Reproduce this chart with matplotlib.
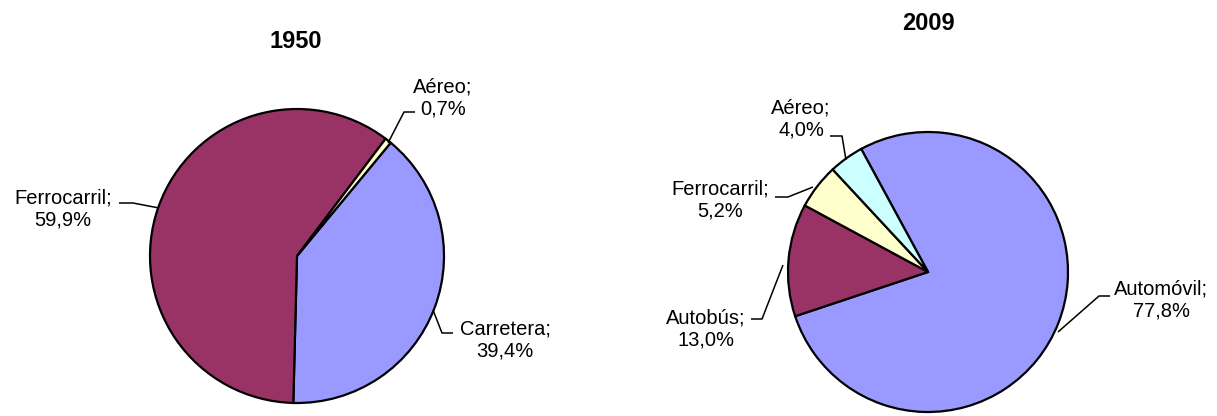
import matplotlib.pyplot as plt

plt.rcParams['font.family'] = ['Liberation Sans', 'DejaVu Sans']

# datos
titulo_1950 = "1950"
modos_1950 = ["Carretera", "Ferrocarril", "Aéreo"]
valores_1950 = [39.4, 59.9, 0.7]

titulo_2009 = "2009"
modos_2009 = ["Automóvil", "Autobús", "Ferrocarril", "Aéreo"]
valores_2009 = [77.8, 13.0, 5.2, 4.0]

colores_1950 = {"Carretera": "#9999FF", "Ferrocarril": "#993366",
                "Aéreo": "#FFFFCC"}
colores_2009 = {"Automóvil": "#9999FF", "Autobús": "#993366",
                "Ferrocarril": "#FFFFCC", "Aéreo": "#CCFFFF"}

W, H = 1217, 416
fig = plt.figure(figsize=(W / 100, H / 100), dpi=100)
ax = fig.add_axes([0, 0, 1, 1])


def py(y):
    # pixel desde arriba -> coordenada
    return H - y


def fmt(v):
    return f"{v:.1f}".replace(".", ",") + "%"


def dibujar(nombres, valores, cols, centro, radio, inicio, titulo, tpos, etiquetas):
    ax.pie(valores, colors=[cols[n] for n in nombres], startangle=inicio,
           counterclock=False, center=(centro[0], py(centro[1])), radius=radio,
           wedgeprops=dict(edgecolor='black', linewidth=1.6), frame=True)
    ax.text(tpos[0], py(tpos[1]), titulo, ha='center', va='center',
            fontsize=17, fontweight='bold')
    for n, v in zip(nombres, valores):
        (tx, ty), linea = etiquetas[n]
        ax.text(tx, py(ty), f"{n};\n{fmt(v)}", ha='center', va='center',
                fontsize=14.5, linespacing=1.15)
        xs = [p[0] for p in linea]
        ys = [py(p[1]) for p in linea]
        ax.plot(xs, ys, color='black', lw=1.1, solid_capstyle='butt')


# posiciones de etiquetas (px) y lineas guia
etq_1950 = {
    "Aéreo": ((443, 98), [(415, 112), (404, 112), (388, 143)]),
    "Ferrocarril": ((63, 209), [(119, 203), (133, 203), (159, 208)]),
    "Carretera": ((505, 340), [(453, 333), (442, 333), (433, 310)]),
}
etq_2009 = {
    "Aéreo": ((801, 119), [(830, 136), (842, 136), (846, 160)]),
    "Ferrocarril": ((720, 200), [(775, 197), (788, 197), (813, 187)]),
    "Autobús": ((706, 329), [(751, 319), (762, 319), (783, 265)]),
    "Automóvil": ((1161, 300), [(1110, 296), (1099, 296), (1058, 332)]),
}

dibujar(modos_1950, valores_1950, colores_1950, (297, 256), 147, 50.4,
        titulo_1950, (296, 42), etq_1950)
dibujar(modos_2009, valores_2009, colores_2009, (928, 272), 140, 118.5,
        titulo_2009, (928, 24), etq_2009)

ax.set_xlim(0, W)
ax.set_ylim(0, H)
ax.set_aspect('equal')
ax.axis('off')

fig.savefig("out.png", dpi=100)
